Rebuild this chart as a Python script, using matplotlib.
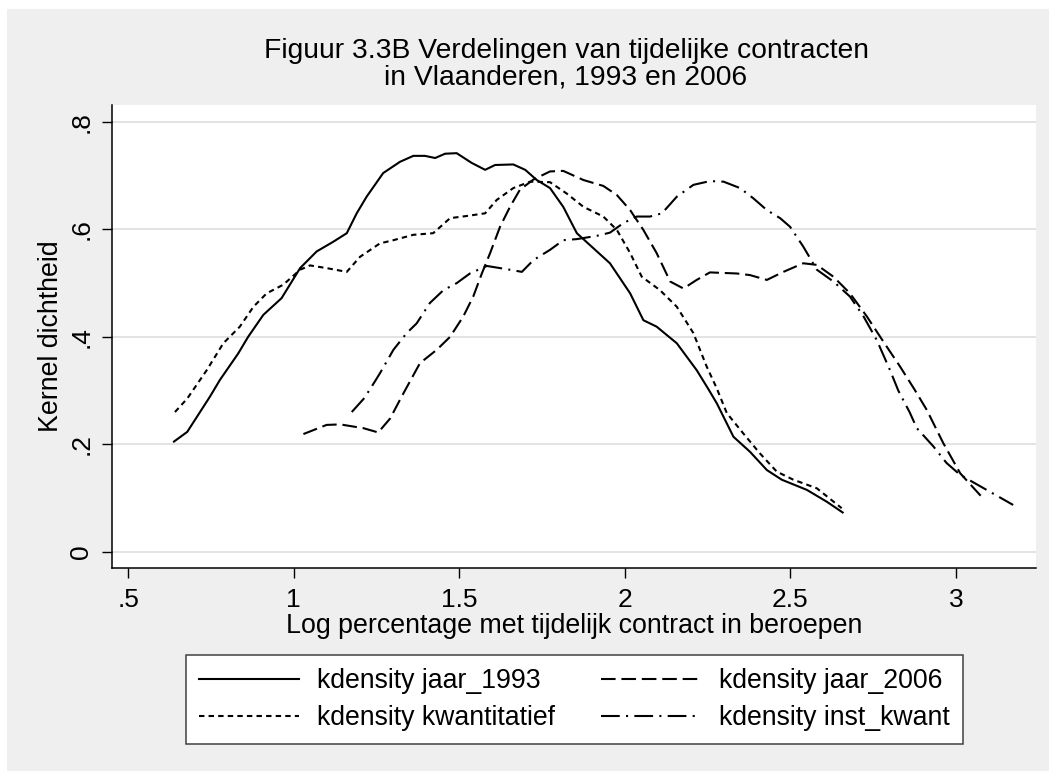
import matplotlib.pyplot as plt
from matplotlib.patches import Rectangle

# curve points (x = log percentage, y = density)
x_1993 = [0.638, 0.678, 0.747, 0.777, 0.832, 0.862, 0.908, 0.963, 1.019, 1.069, 1.119, 1.160,
          1.190, 1.220, 1.270, 1.321, 1.361, 1.396, 1.427, 1.457, 1.492, 1.537, 1.578, 1.608,
          1.663, 1.699, 1.734, 1.774, 1.814, 1.855, 1.905, 1.955, 2.016, 2.056, 2.096, 2.157,
          2.217, 2.252, 2.278, 2.328, 2.378, 2.429, 2.474, 2.550, 2.610, 2.658]
y_1993 = [0.205, 0.223, 0.289, 0.320, 0.369, 0.400, 0.441, 0.472, 0.528, 0.559, 0.577, 0.593,
          0.630, 0.661, 0.705, 0.726, 0.737, 0.737, 0.733, 0.741, 0.742, 0.724, 0.711, 0.720,
          0.721, 0.711, 0.692, 0.677, 0.642, 0.593, 0.565, 0.537, 0.481, 0.431, 0.419, 0.388,
          0.338, 0.303, 0.276, 0.214, 0.186, 0.152, 0.134, 0.115, 0.093, 0.073]

x_2006 = [1.029, 1.099, 1.140, 1.210, 1.255, 1.291, 1.326, 1.381, 1.432, 1.472, 1.512, 1.542,
          1.568, 1.593, 1.623, 1.653, 1.683, 1.724, 1.774, 1.814, 1.875, 1.935, 1.976, 2.016,
          2.056, 2.096, 2.137, 2.177, 2.217, 2.257, 2.338, 2.378, 2.429, 2.479, 2.539, 2.580,
          2.630, 2.680, 2.731, 2.781, 2.831, 2.874, 2.912, 2.962, 3.013, 3.078]
y_2006 = [0.219, 0.236, 0.237, 0.230, 0.222, 0.248, 0.289, 0.351, 0.376, 0.400, 0.438, 0.475,
          0.518, 0.556, 0.605, 0.642, 0.674, 0.693, 0.708, 0.709, 0.692, 0.681, 0.664, 0.636,
          0.599, 0.556, 0.503, 0.490, 0.506, 0.520, 0.518, 0.515, 0.506, 0.521, 0.537, 0.534,
          0.512, 0.481, 0.438, 0.391, 0.345, 0.303, 0.264, 0.202, 0.146, 0.102]

x_kwant = [0.641, 0.678, 0.717, 0.737, 0.787, 0.837, 0.878, 0.918, 0.968, 1.019, 1.049, 1.099,
           1.160, 1.200, 1.260, 1.301, 1.361, 1.421, 1.472, 1.522, 1.578, 1.613, 1.663, 1.714,
           1.774, 1.824, 1.875, 1.935, 1.976, 2.016, 2.051, 2.106, 2.157, 2.207, 2.247, 2.277,
           2.308, 2.358, 2.408, 2.459, 2.509, 2.580, 2.655]
y_kwant = [0.260, 0.285, 0.320, 0.338, 0.388, 0.419, 0.456, 0.481, 0.497, 0.525, 0.533, 0.528,
           0.521, 0.549, 0.574, 0.580, 0.590, 0.593, 0.621, 0.625, 0.630, 0.655, 0.677, 0.689,
           0.688, 0.667, 0.642, 0.624, 0.599, 0.556, 0.512, 0.487, 0.456, 0.407, 0.345, 0.305,
           0.258, 0.220, 0.183, 0.149, 0.134, 0.118, 0.081]

x_inst = [1.175, 1.213, 1.245, 1.260, 1.301, 1.341, 1.371, 1.411, 1.452, 1.492, 1.532, 1.583,
          1.643, 1.689, 1.724, 1.774, 1.814, 1.855, 1.915, 1.955, 1.996, 2.036, 2.076, 2.112,
          2.157, 2.207, 2.257, 2.298, 2.348, 2.388, 2.429, 2.469, 2.499, 2.539, 2.580, 2.630,
          2.680, 2.721, 2.761, 2.801, 2.826, 2.860, 2.882, 2.932, 2.972, 3.013, 3.090, 3.173]
y_inst = [0.260, 0.286, 0.317, 0.332, 0.376, 0.407, 0.425, 0.463, 0.487, 0.500, 0.518, 0.532,
          0.526, 0.521, 0.543, 0.562, 0.580, 0.582, 0.588, 0.594, 0.612, 0.624, 0.624, 0.630,
          0.661, 0.683, 0.690, 0.689, 0.677, 0.658, 0.636, 0.621, 0.605, 0.568, 0.525, 0.503,
          0.475, 0.438, 0.394, 0.338, 0.300, 0.260, 0.230, 0.196, 0.165, 0.143, 0.116, 0.087]

labels = ['kdensity jaar_1993', 'kdensity jaar_2006', 'kdensity kwantitatief', 'kdensity inst_kwant']
xticks = [0.5, 1, 1.5, 2, 2.5, 3]
xticklabels = ['.5', '1', '1.5', '2', '2.5', '3']
yticks = [0, 0.2, 0.4, 0.6, 0.8]
yticklabels = ['0', '.2', '.4', '.6', '.8']

W, H = 1049, 771
plt.rcParams['font.family'] = ['Liberation Sans', 'DejaVu Sans']

fig = plt.figure(figsize=(W / 100, H / 100), dpi=100, facecolor='white')
fig.patches.append(Rectangle((7 / W, 0), 1, 1 - 9 / H, transform=fig.transFigure,
                             facecolor='#efefef', edgecolor='none', zorder=-5))

ax = fig.add_axes([112 / W, 1 - 568 / H, (1036 - 112) / W, (568 - 105) / H])
ax.set_facecolor('white')

lw = 1.5
ax.plot(x_1993, y_1993, color='black', lw=lw, label=labels[0])
ax.plot(x_2006, y_2006, color='black', lw=lw, dashes=(7, 2.8), label=labels[1])
ax.plot(x_kwant, y_kwant, color='black', lw=lw, dashes=(2.6, 2.0), label=labels[2])
ax.plot(x_inst, y_inst, color='black', lw=lw, dashes=(9, 3, 1, 3), label=labels[3])

ax.set_xlim(0.4508, 3.242)
ax.set_ylim(-0.0304, 0.8317)

ax.set_yticks(yticks)
ax.set_yticklabels(yticklabels, rotation=90, va='center')
ax.set_xticks(xticks)
ax.set_xticklabels(xticklabels)
ax.tick_params(axis='both', direction='out', length=7.5, width=1.0, color='black',
               labelsize=19, colors='black')
ax.tick_params(axis='x', pad=7)
ax.tick_params(axis='y', pad=6)
ax.grid(axis='y', color='#e3e3e3', lw=1.4)
ax.set_axisbelow(True)

for side in ['top', 'right']:
    ax.spines[side].set_visible(False)
for side in ['left', 'bottom']:
    ax.spines[side].set_linewidth(1.1)
    ax.spines[side].set_color('black')

ax.set_xlabel('Log percentage met tijdelijk contract in beroepen', fontsize=19.3)
ax.xaxis.set_label_coords(0.5, -(633 - 568) / (568 - 105), transform=ax.transAxes)
ax.xaxis.label.set_va('baseline')
ax.set_ylabel('Kernel dichtheid', fontsize=19.3)
ax.yaxis.set_label_coords(-(112 - 64) / (1036 - 112), 0.5)

fig.text(566 / W, 1 - 38 / H,
         'Figuur 3.3B Verdelingen van tijdelijke contracten\nin Vlaanderen, 1993 en 2006',
         ha='center', va='top', fontsize=20.3, linespacing=1.0)

handles, labs = ax.get_legend_handles_labels()
order = [0, 2, 1, 3]
leg = fig.legend([handles[i] for i in order], [labs[i] for i in order], ncol=2,
                 loc='upper left', bbox_to_anchor=(186 / W, 1 - 655 / H),
                 fontsize=19.2, frameon=True, fancybox=False, edgecolor='#404040',
                 facecolor='white', framealpha=1, handlelength=3.75, handletextpad=0.65,
                 columnspacing=1.75, borderpad=0.5, labelspacing=0.4, borderaxespad=0)
leg.get_frame().set_linewidth(1.1)

plt.savefig('out.png', dpi=100, facecolor=fig.get_facecolor())
